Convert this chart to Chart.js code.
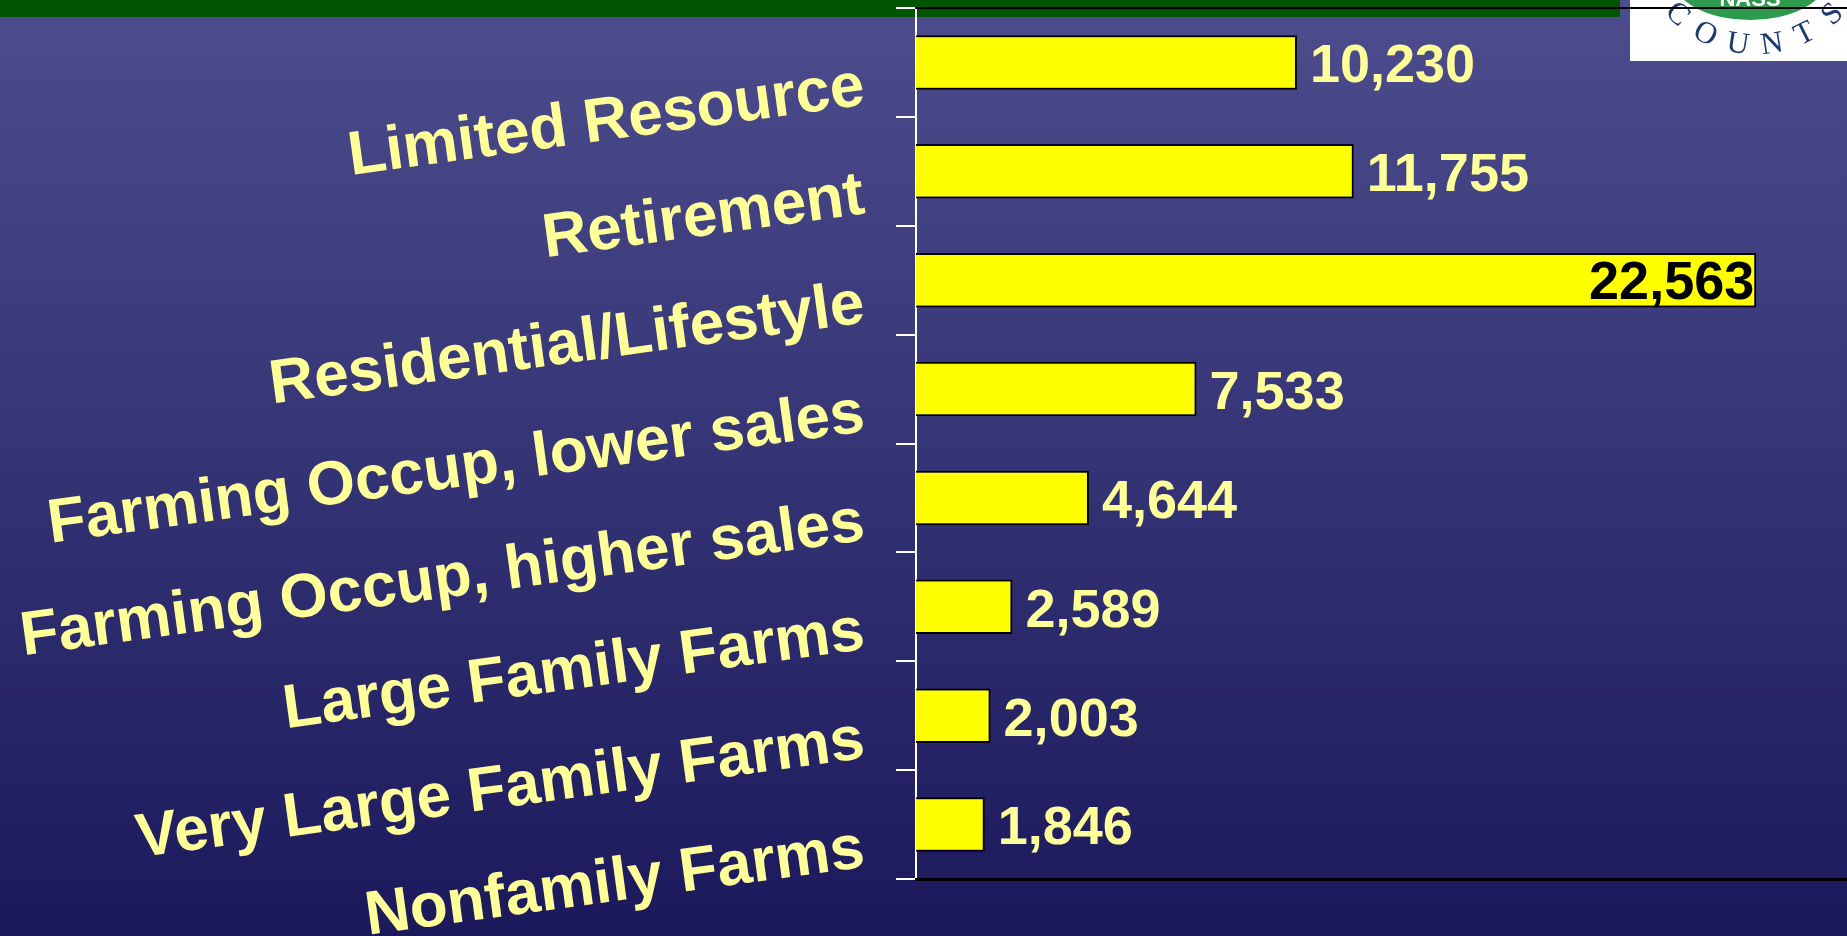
<!DOCTYPE html>
<html>
<head>
<meta charset="utf-8">
<script src="https://cdn.jsdelivr.net/npm/chart.js@4.4.1/dist/chart.umd.min.js"></script>
<style>
  html, body { margin: 0; padding: 0; background: #1c1a5c; overflow: hidden; }
  canvas { display: block; }
</style>
</head>
<body>
<canvas id="farmChart" width="1847" height="936"></canvas>
<script>
// Farm typology categories, top to bottom
const categories = [
  'Limited Resource',
  'Retirement',
  'Residential/Lifestyle',
  'Farming Occup, lower sales',
  'Farming Occup, higher sales',
  'Large Family Farms',
  'Very Large Family Farms',
  'Nonfamily Farms'
];

// Number of farms in each category
const farmCounts = [10230, 11755, 22563, 7533, 4644, 2589, 2003, 1846];

// Value axis range
const axisMin = 0;
const axisMax = 25000;

const FONT_FAMILY = '"Liberation Sans", Arial, Helvetica, sans-serif';
const LABEL_YELLOW = '#ffff99';

// Slide backdrop: blue gradient, green header band and the NASS COUNTS badge
const slideBackground = {
  id: 'slideBackground',
  beforeDraw(chart) {
    const { ctx, width, height } = chart;
    ctx.save();
    const grad = ctx.createLinearGradient(0, 0, 0, height);
    grad.addColorStop(0, '#4d4d8e');
    grad.addColorStop(1, '#1b195b');
    ctx.fillStyle = grad;
    ctx.fillRect(0, 0, width, height);

    // header band
    ctx.fillStyle = '#005500';
    ctx.fillRect(0, 0, 1620, 17);

    // badge
    ctx.fillStyle = '#ffffff';
    ctx.fillRect(1630, 0, 217, 61);
    ctx.beginPath();
    ctx.ellipse(1750, -20, 76, 40, 0, 0, Math.PI * 2);
    ctx.fillStyle = '#2e9a4e';
    ctx.fill();
    ctx.fillStyle = '#ffffff';
    ctx.font = 'bold 22px ' + FONT_FAMILY;
    ctx.textAlign = 'center';
    ctx.textBaseline = 'alphabetic';
    ctx.fillText('NASS', 1750, 6);

    const word = 'COUNTS';
    const cx = 1755, cy = -66, r = 112;
    ctx.fillStyle = '#1d3a6e';
    ctx.font = '31px "Liberation Serif", "Times New Roman", serif';
    ctx.textBaseline = 'middle';
    for (let i = 0; i < word.length; i++) {
      const a = (134 - i * 17.6) * Math.PI / 180;
      ctx.save();
      ctx.translate(cx + r * Math.cos(a), cy + r * Math.sin(a));
      ctx.rotate(a - Math.PI / 2);
      ctx.fillText(word[i], 0, 0);
      ctx.restore();
    }
    ctx.restore();
  }
};

// Value labels at the end of each bar; a label that would run past the plot
// edge is drawn inside the bar in black
const valueLabels = {
  id: 'valueLabels',
  afterDatasetsDraw(chart) {
    const { ctx, chartArea } = chart;
    const meta = chart.getDatasetMeta(0);
    const values = chart.data.datasets[0].data;
    ctx.save();
    ctx.font = 'bold 54px ' + FONT_FAMILY;
    ctx.textBaseline = 'middle';
    meta.data.forEach((bar, i) => {
      const text = values[i].toLocaleString('en-US');
      const w = ctx.measureText(text).width;
      if (bar.x + 12 + w > chartArea.right) {
        ctx.fillStyle = '#000000';
        ctx.textAlign = 'right';
        ctx.fillText(text, bar.x - 2, bar.y + 4);
      } else {
        ctx.fillStyle = LABEL_YELLOW;
        ctx.textAlign = 'left';
        ctx.fillText(text, bar.x + 13, bar.y + 5);
      }
    });
    ctx.restore();
  }
};

new Chart(document.getElementById('farmChart'), {
  type: 'bar',
  data: {
    labels: categories,
    datasets: [{
      data: farmCounts,
      backgroundColor: '#ffff00',
      borderColor: '#000000',
      borderWidth: 2,
      borderSkipped: 'start',
      barPercentage: 0.5,
      categoryPercentage: 1
    }]
  },
  options: {
    indexAxis: 'y',
    responsive: false,
    animation: false,
    events: [],
    layout: { padding: 0 },
    plugins: {
      legend: { display: false },
      tooltip: { enabled: false }
    },
    scales: {
      y: {
        position: 'left',
        z: 1,
        offset: true,
        grid: {
          display: true,
          offset: true,
          drawOnChartArea: false,
          drawTicks: true,
          tickLength: 20,
          color: '#ffffff',
          lineWidth: 2
        },
        border: { display: true, color: '#ffffff', width: 2 },
        ticks: {
          color: LABEL_YELLOW,
          font: { family: FONT_FAMILY, size: 62, weight: 'bold' },
          minRotation: 7.8,
          maxRotation: 7.8,
          autoSkip: false,
          padding: 32,
          labelOffset: 25
        },
        afterFit(scale) {
          scale.width = 916;
          scale.paddingTop = 0;
          scale.paddingBottom = 0;
        }
      },
      x: {
        position: 'bottom',
        min: axisMin,
        max: axisMax,
        grid: { display: false },
        border: { display: true, color: '#000000', width: 3 },
        ticks: { display: false },
        afterFit(scale) {
          scale.height = 57;
          scale.paddingLeft = 0;
          scale.paddingRight = 0;
        }
      },
      xTop: {
        type: 'linear',
        axis: 'x',
        position: 'top',
        min: axisMin,
        max: axisMax,
        grid: { display: false },
        border: { display: true, color: '#000000', width: 2 },
        ticks: { display: false },
        afterFit(scale) {
          scale.height = 8;
          scale.paddingLeft = 0;
          scale.paddingRight = 0;
        }
      }
    }
  },
  plugins: [slideBackground, valueLabels]
});
</script>
</body>
</html>
